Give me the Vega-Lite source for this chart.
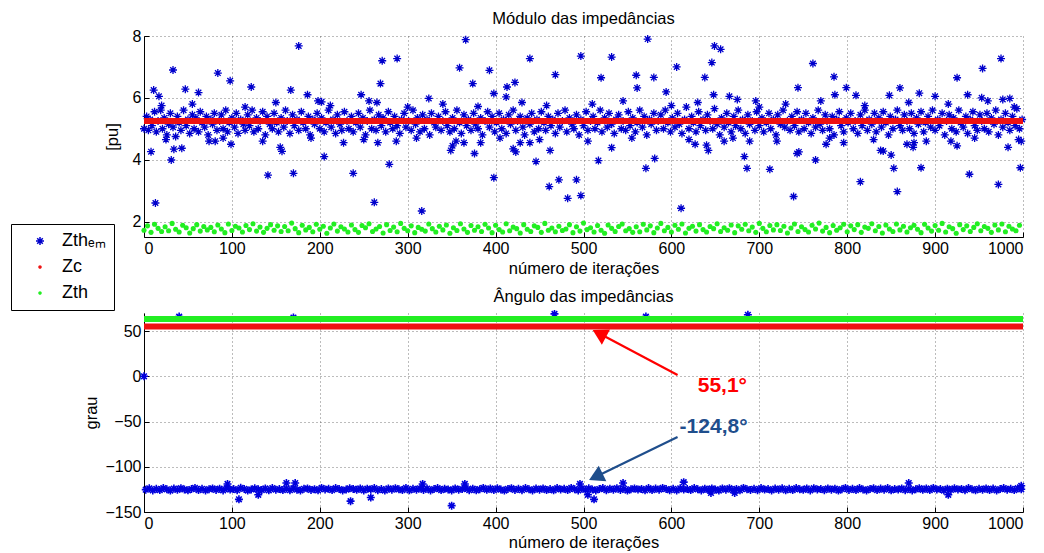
{
"$schema":"https://vega.github.io/schema/vega-lite/v6.json",
"background":"white",
"padding":{"left":10,"top":10,"right":6,"bottom":0},
"spacing":12,
"config":{
"view":{"stroke":null},
"font":"Liberation Sans",
"axis":{"labelFont":"Liberation Sans","labelFontSize":16,"labelColor":"#000","titleFont":"Liberation Sans","titleFontSize":16.5,"titleFontWeight":"normal","titleColor":"#000","domainColor":"#000","tickColor":"#000","tickSize":-5,"labelPadding":8,"gridColor":"#555","gridDash":[1,3],"gridWidth":0.8},
"title":{"font":"Liberation Sans","fontSize":16.5,"fontWeight":"normal","color":"#000","offset":1}
},
"datasets":{
"zem":[
{"x":0,"y":5.0},{"x":3,"y":5.4},{"x":5,"y":4.95},{"x":7,"y":5.3},{"x":9,"y":5.1},{"x":12,"y":5.55},{"x":14,"y":4.9},{"x":16,"y":5.25},{"x":19,"y":5.6},{"x":21,"y":5.0},{"x":23,"y":5.35},{"x":26,"y":4.8},{"x":28,"y":5.15},{"x":30,"y":5.5},{"x":33,"y":5.05},{"x":36,"y":4.75},{"x":38,"y":5.4},{"x":40,"y":5.2},{"x":42,"y":4.95},{"x":45,"y":5.6},{"x":48,"y":5.1},{"x":50,"y":5.3},{"x":52,"y":4.85},{"x":55,"y":5.45},{"x":57,"y":5.0},{"x":59,"y":5.35},{"x":62,"y":4.9},{"x":64,"y":5.55},{"x":66,"y":5.2},{"x":69,"y":5.05},{"x":71,"y":5.4},{"x":73,"y":4.8},{"x":76,"y":5.3},{"x":78,"y":5.15},{"x":80,"y":5.5},{"x":83,"y":4.95},{"x":86,"y":5.25},{"x":88,"y":5.45},{"x":90,"y":5.0},{"x":93,"y":5.6},{"x":95,"y":4.9},{"x":97,"y":5.2},{"x":100,"y":5.35},{"x":103,"y":5.05},{"x":105,"y":5.5},{"x":107,"y":4.85},{"x":110,"y":5.3},{"x":113,"y":5.15},{"x":115,"y":4.95},{"x":118,"y":5.45},{"x":120,"y":5.1},{"x":123,"y":5.6},{"x":125,"y":4.9},{"x":128,"y":5.35},{"x":130,"y":5.0},{"x":132,"y":5.25},{"x":135,"y":5.55},{"x":138,"y":4.8},{"x":140,"y":5.4},{"x":143,"y":5.15},{"x":146,"y":5.0},{"x":148,"y":5.5},{"x":151,"y":5.2},{"x":153,"y":4.9},{"x":156,"y":5.35},{"x":159,"y":5.05},{"x":161,"y":5.6},{"x":163,"y":5.25},{"x":166,"y":4.85},{"x":169,"y":5.45},{"x":171,"y":5.1},{"x":174,"y":5.3},{"x":176,"y":4.95},{"x":179,"y":5.55},{"x":181,"y":5.2},{"x":184,"y":5.0},{"x":187,"y":5.4},{"x":189,"y":4.8},{"x":192,"y":5.3},{"x":194,"y":5.15},{"x":197,"y":5.5},{"x":200,"y":5.0},{"x":202,"y":5.35},{"x":205,"y":4.9},{"x":207,"y":5.2},{"x":210,"y":5.6},{"x":213,"y":5.05},{"x":215,"y":5.3},{"x":218,"y":4.85},{"x":220,"y":5.45},{"x":223,"y":5.15},{"x":225,"y":4.95},{"x":228,"y":5.55},{"x":231,"y":5.25},{"x":233,"y":5.0},{"x":236,"y":5.4},{"x":238,"y":4.9},{"x":241,"y":5.2},{"x":244,"y":5.5},{"x":246,"y":5.05},{"x":249,"y":5.35},{"x":252,"y":4.8},{"x":254,"y":5.25},{"x":257,"y":5.6},{"x":259,"y":5.0},{"x":262,"y":5.3},{"x":264,"y":4.95},{"x":267,"y":5.45},{"x":270,"y":5.1},{"x":272,"y":5.35},{"x":275,"y":4.9},{"x":278,"y":5.55},{"x":280,"y":5.2},{"x":283,"y":5.0},{"x":285,"y":5.4},{"x":288,"y":5.1},{"x":291,"y":4.85},{"x":293,"y":5.3},{"x":296,"y":5.5},{"x":298,"y":5.05},{"x":301,"y":5.25},{"x":304,"y":4.95},{"x":306,"y":5.6},{"x":309,"y":5.15},{"x":311,"y":5.35},{"x":314,"y":4.9},{"x":317,"y":5.45},{"x":319,"y":5.0},{"x":322,"y":5.3},{"x":325,"y":4.8},{"x":327,"y":5.5},{"x":330,"y":5.2},{"x":332,"y":5.05},{"x":335,"y":5.4},{"x":338,"y":4.95},{"x":340,"y":5.25},{"x":343,"y":5.55},{"x":345,"y":5.1},{"x":348,"y":4.9},{"x":351,"y":5.35},{"x":353,"y":5.0},{"x":356,"y":5.6},{"x":359,"y":5.2},{"x":361,"y":4.85},{"x":364,"y":5.45},{"x":367,"y":5.1},{"x":369,"y":5.3},{"x":372,"y":4.95},{"x":375,"y":5.5},{"x":377,"y":5.15},{"x":380,"y":5.0},{"x":383,"y":5.35},{"x":385,"y":4.8},{"x":388,"y":5.25},{"x":391,"y":5.55},{"x":393,"y":5.05},{"x":396,"y":5.4},{"x":399,"y":4.9},{"x":401,"y":5.2},{"x":404,"y":5.5},{"x":407,"y":5.0},{"x":409,"y":5.3},{"x":412,"y":4.85},{"x":415,"y":5.45},{"x":417,"y":5.15},{"x":420,"y":5.6},{"x":423,"y":4.95},{"x":425,"y":5.25},{"x":428,"y":5.4},{"x":431,"y":5.05},{"x":433,"y":4.8},{"x":436,"y":5.35},{"x":439,"y":5.15},{"x":441,"y":5.5},{"x":444,"y":4.9},{"x":447,"y":5.3},{"x":449,"y":5.0},{"x":452,"y":5.55},{"x":455,"y":5.2},{"x":457,"y":4.95},{"x":460,"y":5.4},{"x":463,"y":5.1},{"x":465,"y":5.3},{"x":468,"y":4.85},{"x":471,"y":5.5},{"x":473,"y":5.05},{"x":476,"y":5.25},{"x":479,"y":5.6},{"x":481,"y":4.9},{"x":484,"y":5.35},{"x":487,"y":5.15},{"x":489,"y":5.0},{"x":492,"y":5.45},{"x":495,"y":4.8},{"x":497,"y":5.3},{"x":500,"y":5.1},{"x":503,"y":5.55},{"x":505,"y":4.95},{"x":508,"y":5.25},{"x":511,"y":5.4},{"x":513,"y":5.0},{"x":516,"y":5.2},{"x":519,"y":5.6},{"x":521,"y":4.9},{"x":524,"y":5.35},{"x":527,"y":5.05},{"x":529,"y":5.5},{"x":532,"y":5.15},{"x":535,"y":4.85},{"x":537,"y":5.3},{"x":540,"y":5.45},{"x":543,"y":5.0},{"x":545,"y":5.25},{"x":548,"y":4.95},{"x":551,"y":5.55},{"x":553,"y":5.1},{"x":556,"y":5.35},{"x":559,"y":4.9},{"x":561,"y":5.2},{"x":564,"y":5.6},{"x":567,"y":5.05},{"x":569,"y":5.4},{"x":572,"y":4.8},{"x":575,"y":5.3},{"x":577,"y":5.15},{"x":580,"y":5.5},{"x":583,"y":4.95},{"x":585,"y":5.25},{"x":588,"y":5.45},{"x":591,"y":5.0},{"x":593,"y":5.6},{"x":596,"y":5.2},{"x":599,"y":4.9},{"x":601,"y":5.35},{"x":604,"y":5.05},{"x":607,"y":5.5},{"x":609,"y":5.15},{"x":612,"y":4.85},{"x":615,"y":5.3},{"x":617,"y":5.7},{"x":620,"y":5.0},{"x":623,"y":5.4},{"x":625,"y":5.2},{"x":628,"y":4.9},{"x":631,"y":5.55},{"x":633,"y":5.1},{"x":636,"y":5.3},{"x":639,"y":4.95},{"x":641,"y":5.45},{"x":644,"y":5.25},{"x":647,"y":5.0},{"x":649,"y":5.65},{"x":652,"y":5.15},{"x":655,"y":4.8},{"x":657,"y":5.35},{"x":660,"y":5.05},{"x":663,"y":5.5},{"x":665,"y":5.2},{"x":668,"y":4.9},{"x":671,"y":5.4},{"x":673,"y":5.1},{"x":676,"y":5.6},{"x":679,"y":5.0},{"x":681,"y":5.3},{"x":684,"y":4.85},{"x":687,"y":5.45},{"x":689,"y":5.15},{"x":692,"y":5.25},{"x":695,"y":4.95},{"x":697,"y":5.55},{"x":700,"y":5.1},{"x":703,"y":5.35},{"x":705,"y":4.9},{"x":708,"y":5.2},{"x":711,"y":5.5},{"x":713,"y":5.0},{"x":716,"y":5.3},{"x":719,"y":4.8},{"x":721,"y":5.45},{"x":724,"y":5.15},{"x":727,"y":5.6},{"x":729,"y":5.05},{"x":732,"y":5.25},{"x":735,"y":4.95},{"x":737,"y":5.4},{"x":740,"y":5.1},{"x":743,"y":5.55},{"x":745,"y":4.9},{"x":748,"y":5.3},{"x":751,"y":5.0},{"x":753,"y":5.5},{"x":756,"y":5.2},{"x":759,"y":4.85},{"x":761,"y":5.35},{"x":764,"y":5.05},{"x":767,"y":5.6},{"x":769,"y":5.15},{"x":772,"y":4.95},{"x":775,"y":5.45},{"x":777,"y":5.25},{"x":780,"y":5.0},{"x":783,"y":5.4},{"x":785,"y":4.8},{"x":788,"y":5.3},{"x":791,"y":5.55},{"x":793,"y":5.1},{"x":796,"y":4.9},{"x":799,"y":5.35},{"x":801,"y":5.2},{"x":804,"y":5.5},{"x":807,"y":5.0},{"x":809,"y":5.25},{"x":812,"y":4.85},{"x":815,"y":5.45},{"x":817,"y":5.1},{"x":820,"y":5.6},{"x":823,"y":4.95},{"x":825,"y":5.3},{"x":828,"y":5.15},{"x":831,"y":5.5},{"x":833,"y":4.9},{"x":836,"y":5.35},{"x":839,"y":5.05},{"x":841,"y":5.55},{"x":844,"y":5.2},{"x":847,"y":4.8},{"x":849,"y":5.4},{"x":852,"y":5.0},{"x":855,"y":5.3},{"x":857,"y":5.6},{"x":860,"y":5.1},{"x":863,"y":4.95},{"x":865,"y":5.45},{"x":868,"y":5.25},{"x":871,"y":5.0},{"x":873,"y":5.5},{"x":876,"y":4.85},{"x":879,"y":5.35},{"x":881,"y":5.15},{"x":884,"y":5.55},{"x":887,"y":4.9},{"x":889,"y":5.2},{"x":892,"y":5.4},{"x":895,"y":5.05},{"x":897,"y":5.6},{"x":900,"y":4.95},{"x":903,"y":5.3},{"x":905,"y":5.1},{"x":908,"y":5.5},{"x":911,"y":4.8},{"x":913,"y":5.25},{"x":916,"y":5.45},{"x":919,"y":5.0},{"x":921,"y":5.35},{"x":924,"y":4.9},{"x":927,"y":5.6},{"x":929,"y":5.2},{"x":932,"y":5.05},{"x":935,"y":5.4},{"x":937,"y":4.85},{"x":940,"y":5.3},{"x":943,"y":5.55},{"x":945,"y":5.1},{"x":948,"y":4.95},{"x":951,"y":5.45},{"x":953,"y":5.25},{"x":956,"y":5.0},{"x":959,"y":5.5},{"x":961,"y":4.9},{"x":964,"y":5.35},{"x":967,"y":5.15},{"x":969,"y":5.6},{"x":972,"y":4.8},{"x":975,"y":5.3},{"x":977,"y":5.05},{"x":980,"y":5.5},{"x":983,"y":5.2},{"x":985,"y":4.95},{"x":988,"y":5.4},{"x":991,"y":5.1},{"x":993,"y":5.65},{"x":996,"y":5.0},{"x":999,"y":5.3},
{"x":33,"y":6.9},{"x":84,"y":6.8},{"x":98,"y":6.55},{"x":176,"y":7.68},{"x":122,"y":6.35},{"x":47,"y":6.28},{"x":62,"y":6.17},{"x":11,"y":6.25},{"x":17,"y":6.05},{"x":167,"y":6.25},{"x":186,"y":6.1},{"x":269,"y":6.46},{"x":271,"y":7.2},{"x":288,"y":7.27},{"x":359,"y":6.97},{"x":366,"y":7.88},{"x":374,"y":6.46},{"x":393,"y":6.89},{"x":413,"y":6.35},{"x":422,"y":6.5},{"x":412,"y":6.03},{"x":439,"y":7.27},{"x":398,"y":6.14},{"x":324,"y":5.98},{"x":247,"y":6.1},{"x":202,"y":5.87},{"x":198,"y":5.9},{"x":265,"y":5.85},{"x":497,"y":7.35},{"x":468,"y":6.75},{"x":532,"y":7.32},{"x":520,"y":6.65},{"x":573,"y":7.9},{"x":560,"y":6.73},{"x":561,"y":6.32},{"x":580,"y":6.66},{"x":594,"y":6.19},{"x":606,"y":7.0},{"x":638,"y":6.66},{"x":646,"y":7.14},{"x":649,"y":7.68},{"x":656,"y":7.57},{"x":648,"y":6.1},{"x":666,"y":6.05},{"x":675,"y":5.95},{"x":696,"y":5.9},{"x":744,"y":6.33},{"x":761,"y":7.11},{"x":785,"y":6.68},{"x":786,"y":6.1},{"x":799,"y":6.33},{"x":810,"y":6.08},{"x":848,"y":6.08},{"x":860,"y":6.32},{"x":882,"y":6.15},{"x":900,"y":6.05},{"x":925,"y":6.65},{"x":937,"y":6.1},{"x":954,"y":6.95},{"x":975,"y":7.27},{"x":953,"y":6.0},{"x":977,"y":5.95},{"x":985,"y":5.98},
{"x":8,"y":4.26},{"x":13,"y":2.6},{"x":31,"y":3.99},{"x":34,"y":4.34},{"x":43,"y":4.37},{"x":74,"y":4.6},{"x":81,"y":4.6},{"x":99,"y":4.5},{"x":141,"y":3.5},{"x":155,"y":4.4},{"x":157,"y":4.27},{"x":170,"y":3.56},{"x":205,"y":4.1},{"x":227,"y":4.55},{"x":238,"y":3.56},{"x":262,"y":2.62},{"x":266,"y":4.55},{"x":279,"y":3.85},{"x":287,"y":4.6},{"x":316,"y":2.34},{"x":349,"y":4.3},{"x":351,"y":4.45},{"x":364,"y":4.55},{"x":376,"y":4.2},{"x":383,"y":4.55},{"x":398,"y":3.42},{"x":420,"y":4.35},{"x":423,"y":4.25},{"x":428,"y":4.55},{"x":439,"y":4.55},{"x":446,"y":3.94},{"x":461,"y":3.13},{"x":462,"y":4.3},{"x":472,"y":3.35},{"x":492,"y":3.35},{"x":482,"y":2.75},{"x":497,"y":2.84},{"x":517,"y":3.97},{"x":532,"y":4.39},{"x":571,"y":3.72},{"x":581,"y":4.04},{"x":611,"y":2.43},{"x":627,"y":4.5},{"x":640,"y":4.47},{"x":642,"y":4.3},{"x":660,"y":4.6},{"x":683,"y":4.1},{"x":686,"y":3.72},{"x":689,"y":4.6},{"x":712,"y":3.69},{"x":739,"y":2.81},{"x":743,"y":4.2},{"x":745,"y":4.25},{"x":764,"y":3.99},{"x":776,"y":4.5},{"x":796,"y":4.55},{"x":815,"y":3.29},{"x":838,"y":4.3},{"x":841,"y":4.28},{"x":850,"y":4.15},{"x":853,"y":3.72},{"x":857,"y":2.97},{"x":868,"y":4.5},{"x":875,"y":4.4},{"x":876,"y":4.55},{"x":884,"y":3.74},{"x":918,"y":4.6},{"x":925,"y":4.45},{"x":939,"y":3.53},{"x":972,"y":3.2},{"x":983,"y":4.4},{"x":997,"y":3.74},{"x":998,"y":4.6},
{"x":20,"y":5.75},{"x":55,"y":5.8},{"x":115,"y":5.7},{"x":150,"y":5.85},{"x":212,"y":5.75},{"x":256,"y":5.9},{"x":300,"y":5.7},{"x":340,"y":5.8},{"x":380,"y":5.72},{"x":430,"y":5.85},{"x":458,"y":5.75},{"x":510,"y":5.8},{"x":545,"y":5.9},{"x":600,"y":5.75},{"x":630,"y":5.85},{"x":700,"y":5.7},{"x":730,"y":5.8},{"x":770,"y":5.9},{"x":820,"y":5.75},{"x":870,"y":5.85},{"x":915,"y":5.8},{"x":960,"y":5.9},{"x":990,"y":5.7},
{"x":25,"y":4.65},{"x":90,"y":4.7},{"x":135,"y":4.6},{"x":190,"y":4.7},{"x":250,"y":4.65},{"x":310,"y":4.7},{"x":355,"y":4.6},{"x":405,"y":4.7},{"x":450,"y":4.65},{"x":505,"y":4.6},{"x":555,"y":4.7},{"x":620,"y":4.65},{"x":670,"y":4.7},{"x":720,"y":4.6},{"x":780,"y":4.7},{"x":830,"y":4.65},{"x":890,"y":4.6},{"x":945,"y":4.7},{"x":995,"y":4.65}
],
"zth":[
{"x":0,"y":1.72},{"x":4,"y":1.86},{"x":8,"y":1.65},{"x":12,"y":1.91},{"x":16,"y":1.78},{"x":20,"y":1.68},{"x":24,"y":1.83},{"x":28,"y":1.70},{"x":32,"y":1.94},{"x":36,"y":1.75},{"x":40,"y":1.66},{"x":44,"y":1.88},{"x":48,"y":1.80},{"x":52,"y":1.63},{"x":56,"y":1.77},{"x":60,"y":1.90},{"x":64,"y":1.69},{"x":68,"y":1.84},{"x":72,"y":1.73},{"x":76,"y":1.81},
{"x":80,"y":1.67},{"x":84,"y":1.89},{"x":88,"y":1.76},{"x":92,"y":1.64},{"x":96,"y":1.92},{"x":100,"y":1.71},{"x":104,"y":1.85},{"x":108,"y":1.79},{"x":112,"y":1.66},{"x":116,"y":1.87},{"x":120,"y":1.74},{"x":124,"y":1.93},{"x":128,"y":1.69},{"x":132,"y":1.82},{"x":136,"y":1.65},{"x":140,"y":1.78},{"x":144,"y":1.90},{"x":148,"y":1.72},{"x":152,"y":1.86},{"x":156,"y":1.68},
{"x":160,"y":1.84},{"x":164,"y":1.70},{"x":168,"y":1.95},{"x":172,"y":1.77},{"x":176,"y":1.64},{"x":180,"y":1.88},{"x":184,"y":1.73},{"x":188,"y":1.81},{"x":192,"y":1.67},{"x":196,"y":1.91},{"x":200,"y":1.75},{"x":204,"y":1.85},{"x":208,"y":1.62},{"x":212,"y":1.79},{"x":216,"y":1.92},{"x":220,"y":1.69},{"x":224,"y":1.83},{"x":228,"y":1.76},{"x":232,"y":1.66},{"x":236,"y":1.89},
{"x":240,"y":1.74},{"x":244,"y":1.65},{"x":248,"y":1.87},{"x":252,"y":1.80},{"x":256,"y":1.93},{"x":260,"y":1.68},{"x":264,"y":1.76},{"x":268,"y":1.84},{"x":272,"y":1.63},{"x":276,"y":1.90},{"x":280,"y":1.71},{"x":284,"y":1.82},{"x":288,"y":1.67},{"x":292,"y":1.94},{"x":296,"y":1.78},{"x":300,"y":1.70},{"x":304,"y":1.86},{"x":308,"y":1.64},{"x":312,"y":1.81},{"x":316,"y":1.75},
{"x":320,"y":1.69},{"x":324,"y":1.92},{"x":328,"y":1.77},{"x":332,"y":1.66},{"x":336,"y":1.85},{"x":340,"y":1.73},{"x":344,"y":1.89},{"x":348,"y":1.62},{"x":352,"y":1.80},{"x":356,"y":1.71},{"x":360,"y":1.93},{"x":364,"y":1.76},{"x":368,"y":1.65},{"x":372,"y":1.87},{"x":376,"y":1.72},{"x":380,"y":1.83},{"x":384,"y":1.68},{"x":388,"y":1.91},{"x":392,"y":1.79},{"x":396,"y":1.64},
{"x":400,"y":1.88},{"x":404,"y":1.74},{"x":408,"y":1.66},{"x":412,"y":1.93},{"x":416,"y":1.70},{"x":420,"y":1.82},{"x":424,"y":1.77},{"x":428,"y":1.63},{"x":432,"y":1.90},{"x":436,"y":1.75},{"x":440,"y":1.68},{"x":444,"y":1.86},{"x":448,"y":1.81},{"x":452,"y":1.65},{"x":456,"y":1.94},{"x":460,"y":1.72},{"x":464,"y":1.79},{"x":468,"y":1.67},{"x":472,"y":1.85},{"x":476,"y":1.71},
{"x":480,"y":1.76},{"x":484,"y":1.90},{"x":488,"y":1.64},{"x":492,"y":1.83},{"x":496,"y":1.69},{"x":500,"y":1.95},{"x":504,"y":1.74},{"x":508,"y":1.80},{"x":512,"y":1.66},{"x":516,"y":1.87},{"x":520,"y":1.72},{"x":524,"y":1.62},{"x":528,"y":1.89},{"x":532,"y":1.78},{"x":536,"y":1.68},{"x":540,"y":1.84},{"x":544,"y":1.92},{"x":548,"y":1.70},{"x":552,"y":1.77},{"x":556,"y":1.65},
{"x":560,"y":1.83},{"x":564,"y":1.67},{"x":568,"y":1.91},{"x":572,"y":1.73},{"x":576,"y":1.86},{"x":580,"y":1.64},{"x":584,"y":1.79},{"x":588,"y":1.94},{"x":592,"y":1.70},{"x":596,"y":1.81},{"x":600,"y":1.66},{"x":604,"y":1.88},{"x":608,"y":1.75},{"x":612,"y":1.92},{"x":616,"y":1.63},{"x":620,"y":1.78},{"x":624,"y":1.85},{"x":628,"y":1.69},{"x":632,"y":1.90},{"x":636,"y":1.74},
{"x":640,"y":1.66},{"x":644,"y":1.84},{"x":648,"y":1.77},{"x":652,"y":1.93},{"x":656,"y":1.68},{"x":660,"y":1.80},{"x":664,"y":1.72},{"x":668,"y":1.89},{"x":672,"y":1.64},{"x":676,"y":1.86},{"x":680,"y":1.75},{"x":684,"y":1.91},{"x":688,"y":1.70},{"x":692,"y":1.82},{"x":696,"y":1.65},{"x":700,"y":1.94},{"x":704,"y":1.78},{"x":708,"y":1.67},{"x":712,"y":1.87},{"x":716,"y":1.73},
{"x":720,"y":1.90},{"x":724,"y":1.71},{"x":728,"y":1.85},{"x":732,"y":1.63},{"x":736,"y":1.79},{"x":740,"y":1.92},{"x":744,"y":1.68},{"x":748,"y":1.83},{"x":752,"y":1.74},{"x":756,"y":1.66},{"x":760,"y":1.88},{"x":764,"y":1.76},{"x":768,"y":1.95},{"x":772,"y":1.69},{"x":776,"y":1.81},{"x":780,"y":1.64},{"x":784,"y":1.87},{"x":788,"y":1.72},{"x":792,"y":1.80},{"x":796,"y":1.91},
{"x":800,"y":1.67},{"x":804,"y":1.86},{"x":808,"y":1.74},{"x":812,"y":1.90},{"x":816,"y":1.65},{"x":820,"y":1.82},{"x":824,"y":1.78},{"x":828,"y":1.93},{"x":832,"y":1.70},{"x":836,"y":1.84},{"x":840,"y":1.63},{"x":844,"y":1.89},{"x":848,"y":1.76},{"x":852,"y":1.68},{"x":856,"y":1.92},{"x":860,"y":1.73},{"x":864,"y":1.85},{"x":868,"y":1.66},{"x":872,"y":1.80},{"x":876,"y":1.88},
{"x":880,"y":1.75},{"x":884,"y":1.64},{"x":888,"y":1.91},{"x":892,"y":1.79},{"x":896,"y":1.69},{"x":900,"y":1.87},{"x":904,"y":1.72},{"x":908,"y":1.94},{"x":912,"y":1.66},{"x":916,"y":1.83},{"x":920,"y":1.77},{"x":924,"y":1.62},{"x":928,"y":1.90},{"x":932,"y":1.74},{"x":936,"y":1.86},{"x":940,"y":1.68},{"x":944,"y":1.81},{"x":948,"y":1.93},{"x":952,"y":1.70},{"x":956,"y":1.84},
{"x":960,"y":1.78},{"x":964,"y":1.65},{"x":968,"y":1.89},{"x":972,"y":1.73},{"x":976,"y":1.92},{"x":980,"y":1.67},{"x":984,"y":1.85},{"x":988,"y":1.76},{"x":992,"y":1.70},{"x":996,"y":1.88}
],
"ang":[
{"x":0,"y":0},{"x":40,"y":66},{"x":170,"y":65},{"x":467,"y":69},{"x":571,"y":66},{"x":687,"y":68},
{"x":108,"y":-136},{"x":130,"y":-131},{"x":235,"y":-138},{"x":258,"y":-134},{"x":350,"y":-143},{"x":505,"y":-131},{"x":512,"y":-136},{"x":915,"y":-131},{"x":645,"y":-129},{"x":672,"y":-129},
{"x":95,"y":-119},{"x":162,"y":-118},{"x":172,"y":-118},{"x":317,"y":-119},{"x":365,"y":-119},{"x":496,"y":-119},{"x":545,"y":-118},{"x":614,"y":-117},{"x":870,"y":-118},{"x":998,"y":-121},
{"x":2,"y":-125.3},{"x":6,"y":-123.8},{"x":10,"y":-126.1},{"x":14,"y":-124.4},{"x":18,"y":-125.8},{"x":22,"y":-123.5},{"x":26,"y":-124.9},{"x":30,"y":-126.3},{"x":34,"y":-124.1},{"x":38,"y":-125.5},{"x":42,"y":-123.7},{"x":46,"y":-125.0},{"x":50,"y":-126.0},{"x":54,"y":-124.6},{"x":58,"y":-123.4},{"x":62,"y":-125.7},{"x":66,"y":-124.3},{"x":70,"y":-126.2},{"x":74,"y":-124.8},{"x":78,"y":-123.9},
{"x":82,"y":-125.6},{"x":86,"y":-124.2},{"x":90,"y":-126.1},{"x":94,"y":-123.6},{"x":98,"y":-125.2},{"x":102,"y":-124.7},{"x":106,"y":-125.9},{"x":110,"y":-123.3},{"x":114,"y":-124.5},{"x":118,"y":-126.3},{"x":122,"y":-125.1},{"x":126,"y":-123.8},{"x":130,"y":-124.9},{"x":134,"y":-125.7},{"x":138,"y":-124.0},{"x":142,"y":-126.0},{"x":146,"y":-123.5},{"x":150,"y":-125.4},{"x":154,"y":-124.6},{"x":158,"y":-125.8},
{"x":162,"y":-124.1},{"x":166,"y":-125.9},{"x":170,"y":-123.7},{"x":174,"y":-125.3},{"x":178,"y":-126.2},{"x":182,"y":-124.4},{"x":186,"y":-123.9},{"x":190,"y":-125.6},{"x":194,"y":-124.8},{"x":198,"y":-126.0},{"x":202,"y":-123.4},{"x":206,"y":-125.0},{"x":210,"y":-124.3},{"x":214,"y":-125.8},{"x":218,"y":-123.6},{"x":222,"y":-124.7},{"x":226,"y":-126.1},{"x":230,"y":-125.2},{"x":234,"y":-123.8},{"x":238,"y":-124.5},
{"x":242,"y":-125.5},{"x":246,"y":-123.9},{"x":250,"y":-126.2},{"x":254,"y":-124.2},{"x":258,"y":-125.1},{"x":262,"y":-123.5},{"x":266,"y":-125.9},{"x":270,"y":-124.6},{"x":274,"y":-126.3},{"x":278,"y":-124.0},{"x":282,"y":-125.4},{"x":286,"y":-123.7},{"x":290,"y":-124.9},{"x":294,"y":-125.7},{"x":298,"y":-123.4},{"x":302,"y":-126.0},{"x":306,"y":-124.4},{"x":310,"y":-125.3},{"x":314,"y":-123.8},{"x":318,"y":-125.6},
{"x":322,"y":-124.1},{"x":326,"y":-126.1},{"x":330,"y":-124.7},{"x":334,"y":-123.5},{"x":338,"y":-125.8},{"x":342,"y":-124.3},{"x":346,"y":-125.0},{"x":350,"y":-126.2},{"x":354,"y":-123.9},{"x":358,"y":-125.4},{"x":362,"y":-124.6},{"x":366,"y":-123.6},{"x":370,"y":-125.9},{"x":374,"y":-124.2},{"x":378,"y":-126.0},{"x":382,"y":-124.8},{"x":386,"y":-123.4},{"x":390,"y":-125.5},{"x":394,"y":-124.0},{"x":398,"y":-125.7},
{"x":402,"y":-123.8},{"x":406,"y":-125.2},{"x":410,"y":-126.3},{"x":414,"y":-124.5},{"x":418,"y":-123.7},{"x":422,"y":-125.6},{"x":426,"y":-124.3},{"x":430,"y":-125.9},{"x":434,"y":-123.5},{"x":438,"y":-124.9},{"x":442,"y":-126.1},{"x":446,"y":-124.1},{"x":450,"y":-125.3},{"x":454,"y":-123.9},{"x":458,"y":-125.8},{"x":462,"y":-124.7},{"x":466,"y":-126.0},{"x":470,"y":-123.6},{"x":474,"y":-125.1},{"x":478,"y":-124.4},
{"x":482,"y":-125.7},{"x":486,"y":-123.4},{"x":490,"y":-124.8},{"x":494,"y":-126.2},{"x":498,"y":-124.0},{"x":502,"y":-125.5},{"x":506,"y":-123.8},{"x":510,"y":-125.0},{"x":514,"y":-126.1},{"x":518,"y":-124.6},{"x":522,"y":-123.5},{"x":526,"y":-125.9},{"x":530,"y":-124.2},{"x":534,"y":-125.4},{"x":538,"y":-123.7},{"x":542,"y":-125.6},{"x":546,"y":-124.3},{"x":550,"y":-126.3},{"x":554,"y":-124.9},{"x":558,"y":-123.9},
{"x":562,"y":-125.2},{"x":566,"y":-124.5},{"x":570,"y":-126.0},{"x":574,"y":-123.6},{"x":578,"y":-125.8},{"x":582,"y":-124.1},{"x":586,"y":-125.3},{"x":590,"y":-123.4},{"x":594,"y":-124.7},{"x":598,"y":-125.9},{"x":602,"y":-124.4},{"x":606,"y":-126.2},{"x":610,"y":-123.8},{"x":614,"y":-125.1},{"x":618,"y":-124.6},{"x":622,"y":-125.7},{"x":626,"y":-123.5},{"x":630,"y":-124.9},{"x":634,"y":-126.1},{"x":638,"y":-124.2},
{"x":642,"y":-125.5},{"x":646,"y":-123.9},{"x":650,"y":-125.0},{"x":654,"y":-126.3},{"x":658,"y":-124.0},{"x":662,"y":-125.4},{"x":666,"y":-123.7},{"x":670,"y":-125.8},{"x":674,"y":-124.5},{"x":678,"y":-126.0},{"x":682,"y":-123.4},{"x":686,"y":-124.8},{"x":690,"y":-125.6},{"x":694,"y":-124.3},{"x":698,"y":-125.9},{"x":702,"y":-123.6},{"x":706,"y":-125.2},{"x":710,"y":-124.7},{"x":714,"y":-126.2},{"x":718,"y":-124.1},
{"x":722,"y":-125.3},{"x":726,"y":-123.8},{"x":730,"y":-126.0},{"x":734,"y":-124.4},{"x":738,"y":-125.7},{"x":742,"y":-123.5},{"x":746,"y":-124.9},{"x":750,"y":-125.5},{"x":754,"y":-124.0},{"x":758,"y":-126.1},{"x":762,"y":-123.7},{"x":766,"y":-125.1},{"x":770,"y":-124.6},{"x":774,"y":-125.9},{"x":778,"y":-123.9},{"x":782,"y":-125.4},{"x":786,"y":-124.2},{"x":790,"y":-126.3},{"x":794,"y":-124.8},{"x":798,"y":-123.4},
{"x":802,"y":-125.6},{"x":806,"y":-124.3},{"x":810,"y":-125.8},{"x":814,"y":-123.6},{"x":818,"y":-125.0},{"x":822,"y":-126.2},{"x":826,"y":-124.5},{"x":830,"y":-123.8},{"x":834,"y":-125.7},{"x":838,"y":-124.1},{"x":842,"y":-125.3},{"x":846,"y":-123.5},{"x":850,"y":-126.0},{"x":854,"y":-124.7},{"x":858,"y":-125.2},{"x":862,"y":-123.9},{"x":866,"y":-125.9},{"x":870,"y":-124.4},{"x":874,"y":-126.1},{"x":878,"y":-124.9},
{"x":882,"y":-123.7},{"x":886,"y":-125.5},{"x":890,"y":-124.0},{"x":894,"y":-125.8},{"x":898,"y":-123.4},{"x":902,"y":-125.1},{"x":906,"y":-124.6},{"x":910,"y":-126.3},{"x":914,"y":-124.2},{"x":918,"y":-125.6},{"x":922,"y":-123.8},{"x":926,"y":-125.0},{"x":930,"y":-124.5},{"x":934,"y":-125.9},{"x":938,"y":-123.6},{"x":942,"y":-124.8},{"x":946,"y":-126.0},{"x":950,"y":-124.3},{"x":954,"y":-125.4},{"x":958,"y":-123.9},
{"x":962,"y":-125.7},{"x":966,"y":-124.1},{"x":970,"y":-126.2},{"x":974,"y":-124.7},{"x":978,"y":-123.5},{"x":982,"y":-125.3},{"x":986,"y":-124.4},{"x":990,"y":-125.8},{"x":994,"y":-123.7},{"x":998,"y":-124.9}
]
},
"vconcat":[
{
"title":{"text":"Módulo das impedâncias"},
"width":879,"height":201,
"encoding":{
"x":{"field":"x","type":"quantitative","scale":{"domain":[0,1000],"nice":false},"axis":{"values":[0,100,200,300,400,500,600,700,800,900,1000],"format":"d","title":"número de iterações","titlePadding":4}},
"y":{"field":"y","type":"quantitative","scale":{"domain":[1.5,8],"nice":false,"zero":false},"axis":{"values":[2,4,6,8],"title":"[pu]","titlePadding":12}}
},
"layer":[
{"data":{"name":"zem"},"mark":{"type":"point","filled":false,"strokeWidth":1.3,"size":64,"opacity":1},
"encoding":{
"color":{"datum":"Zthₑₘ","type":"nominal","scale":{"domain":["Zthₑₘ","Zc","Zth"],"range":["#0000cc","#ee1111","#22ee22"]},
"legend":{"orient":"none","legendX":-133,"legendY":188,"title":null,"strokeColor":"#000","fillColor":"#fff","padding":8,"labelFont":"Liberation Sans","labelFontSize":18,"labelColor":"#000","symbolSize":64,"symbolStrokeWidth":1.5,"rowPadding":8,"labelOffset":13,"symbolOffset":12}},
"shape":{"datum":"Zthₑₘ","type":"nominal","scale":{"domain":["Zthₑₘ","Zc","Zth"],"range":["M-1,0L1,0M0,-1L0,1M-0.7,-0.7L0.7,0.7M-0.7,0.7L0.7,-0.7","M-0.25,0A0.25,0.25,0,1,1,0.25,0A0.25,0.25,0,1,1,-0.25,0Z","M-0.25,0A0.25,0.25,0,1,1,0.25,0A0.25,0.25,0,1,1,-0.25,0Z"]}}
}},
{"data":{"values":[{"x":0,"y":5.25},{"x":1000,"y":5.25}]},"mark":{"type":"line","color":"#ee1111","strokeWidth":6},"encoding":{}},
{"data":{"name":"zth"},"mark":{"type":"point","shape":"circle","filled":true,"size":26,"opacity":1},
"encoding":{
"color":{"datum":"Zth","type":"nominal"}
}}
]
},
{
"title":{"text":"Ângulo das impedâncias"},
"width":879,"height":199,
"encoding":{
"x":{"field":"x","type":"quantitative","scale":{"domain":[0,1000],"nice":false},"axis":{"values":[0,100,200,300,400,500,600,700,800,900,1000],"format":"d","title":"número de iterações","titlePadding":3}},
"y":{"field":"y","type":"quantitative","scale":{"domain":[-150,70],"nice":false,"zero":false},"axis":{"values":[-150,-100,-50,0,50],"title":"grau","titlePadding":5}}
},
"layer":[
{"data":{"name":"ang"},"mark":{"type":"point","shape":"M-1,0L1,0M0,-1L0,1M-0.7,-0.7L0.7,0.7M-0.7,0.7L0.7,-0.7","filled":false,"strokeWidth":1.6,"size":64,"opacity":1,"color":"#0000dd"},"encoding":{}},
{"data":{"values":[{"x":0,"y":55.1},{"x":1000,"y":55.1}]},"mark":{"type":"line","color":"#ee1111","strokeWidth":6},"encoding":{}},
{"data":{"values":[{"x":0,"y":63.5},{"x":1000,"y":63.5}]},"mark":{"type":"line","color":"#22ee22","strokeWidth":6},"encoding":{}},
{"data":{"values":[{"x":607,"y":1.5,"x2":518,"y2":47.3}]},"mark":{"type":"rule","color":"#ff0000","strokeWidth":2.2},"encoding":{"x2":{"field":"x2"},"y2":{"field":"y2"}}},
{"data":{"values":[{"x":518,"y":47.3}]},"mark":{"type":"point","shape":"triangle-up","filled":true,"size":300,"angle":298,"color":"#ff0000","opacity":1},"encoding":{}},
{"data":{"values":[{"x":607,"y":-67,"x2":514,"y2":-111}]},"mark":{"type":"rule","color":"#1f4e8c","strokeWidth":2.2},"encoding":{"x2":{"field":"x2"},"y2":{"field":"y2"}}},
{"data":{"values":[{"x":514,"y":-111}]},"mark":{"type":"point","shape":"triangle-up","filled":true,"size":300,"angle":244,"color":"#1f4e8c","opacity":1},"encoding":{}},
{"data":{"values":[{"x":658,"y":-10.7,"t":"55,1°"}]},"mark":{"type":"text","color":"#ff0000","fontSize":21,"fontWeight":"bold","font":"Liberation Sans","align":"center","baseline":"middle"},"encoding":{"text":{"field":"t"}}},
{"data":{"values":[{"x":648,"y":-55.7,"t":"-124,8°"}]},"mark":{"type":"text","color":"#1f4e8c","fontSize":21,"fontWeight":"bold","font":"Liberation Sans","align":"center","baseline":"middle"},"encoding":{"text":{"field":"t"}}}
]
}
]
}
